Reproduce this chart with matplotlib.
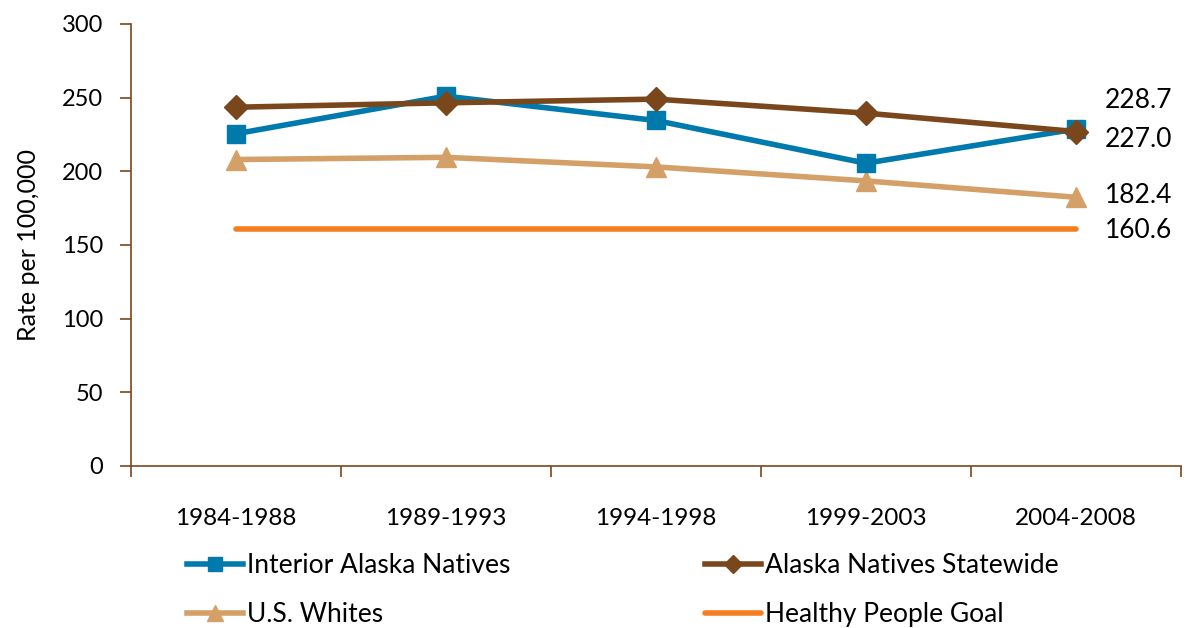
import matplotlib
matplotlib.use('Agg')
import matplotlib.pyplot as plt
import numpy as np

periods = ['1984-1988', '1989-1993', '1994-1998', '1999-2003', '2004-2008']
interior = [225.5, 251.0, 234.5, 205.5, 228.7]
statewide = [243.5, 246.5, 249.0, 239.5, 227.0]
us_whites = [208.0, 209.5, 203.0, 193.5, 182.4]
goal = [160.6] * 5
end_labels = ['228.7', '227.0', '182.4', '160.6']
end_label_y = [248.0, 221.5, 183.3, 159.5]

plt.rcParams['font.family'] = ['Lato', 'DejaVu Sans']
fig = plt.figure(figsize=(11.86, 6.28), dpi=100)
ax = fig.add_axes([0.1105, 0.258, 0.885, 0.7038])
x = np.arange(len(periods))
ax.plot(x, goal, color='#F47E20', lw=4, solid_capstyle='round', label='Healthy People Goal', zorder=2)
ax.plot(x, us_whites, color='#D4A068', lw=4, marker='^', ms=15, label='U.S. Whites', zorder=3)
ax.plot(x, interior, color='#0079AD', lw=4, marker='s', ms=13, label='Interior Alaska Natives', zorder=4)
ax.plot(x, statewide, color='#7A471D', lw=4, marker='D', ms=12, label='Alaska Natives Statewide', zorder=5)
for t, yy in zip(end_labels, end_label_y):
    ax.text(4.14, yy, t, fontsize=19, va='center', ha='left')

ax.set_xlim(-0.5, 4.5)
ax.set_ylim(0, 300)
ax.set_yticks(range(0, 301, 50))
ax.set_xticks(x)
ax.set_xticklabels(periods, fontsize=17.5)
ax.set_xticks(np.arange(-0.5, 5, 1), minor=True)
ax.tick_params(axis='x', which='major', length=0, pad=30)
ax.tick_params(axis='x', which='minor', length=8, color='#7A471D', width=1.2)
ax.tick_params(axis='y', labelsize=17, length=8, color='#7A471D', width=1.2, pad=12)
for s in ['top', 'right']:
    ax.spines[s].set_visible(False)
for s in ['left', 'bottom']:
    ax.spines[s].set_color('#7A471D')
    ax.spines[s].set_linewidth(1.2)
ax.set_ylabel('Rate per 100,000', fontsize=18, labelpad=16)

h, l = ax.get_legend_handles_labels()
order = [2, 1, 3, 0]
fig.legend([h[i] for i in order], [l[i] for i in order], ncol=2, loc='lower left',
           bbox_to_anchor=(0.138, -0.036), frameon=False, fontsize=19, handlelength=2.1,
           markerscale=0.75, columnspacing=7.4, handletextpad=0.15, labelspacing=0.9)
fig.savefig('out.png', dpi=100)
